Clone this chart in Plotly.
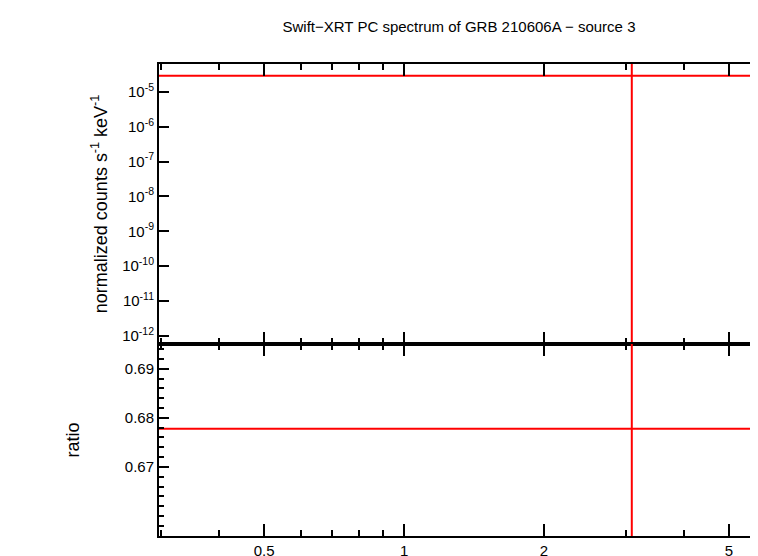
import numpy as np
import plotly.graph_objects as go
from plotly.subplots import make_subplots

# values
energy_range = [0.297, 5.89]
model_level = 2.9e-5
ratio_level = 0.6778
line_energy = 3.09
spec_range = [1e-4 / 1.6, 5.9e-13]
ratio_range = [0.6559, 0.6951]
x_ticks = [0.5, 1, 2, 5]
x_minor = [0.3, 0.4, 0.6, 0.7, 0.8, 0.9, 3, 4]
y_exps = [-5, -6, -7, -8, -9, -10, -11, -12]
ratio_ticks = [0.67, 0.68, 0.69]

fig = make_subplots(rows=2, cols=1, shared_xaxes=True, vertical_spacing=0,
                    row_heights=[0.593, 0.407])

red = dict(color='#ff0000', width=2)
fig.add_trace(go.Scatter(x=energy_range, y=[model_level, model_level], mode='lines', line=red), 1, 1)
fig.add_trace(go.Scatter(x=[line_energy, line_energy], y=spec_range, mode='lines', line=red), 1, 1)
fig.add_trace(go.Scatter(x=energy_range, y=[ratio_level, ratio_level], mode='lines', line=red), 2, 1)
fig.add_trace(go.Scatter(x=[line_energy, line_energy], y=ratio_range, mode='lines', line=red), 2, 1)

ax = dict(showline=True, linecolor='black', linewidth=2, mirror='ticks', ticks='inside',
          tickcolor='black', tickwidth=1.5, showgrid=False, zeroline=False, automargin=False)
xr = [np.log10(v) for v in energy_range]
fig.update_xaxes(type='log', range=xr, ticklen=12, tickvals=x_ticks,
                 ticktext=[str(v) for v in x_ticks],
                 minor=dict(ticks='inside', ticklen=6, tickcolor='black', tickvals=x_minor), **ax)
fig.update_xaxes(showticklabels=False, row=1, col=1)

fig.update_yaxes(type='log', range=[np.log10(spec_range[1]), np.log10(spec_range[0])],
                 tickvals=[10.0 ** e for e in y_exps],
                 ticktext=['10<sup>%d</sup>' % e for e in y_exps], ticklen=10,
                 title=dict(text='normalized counts s<sup>-1</sup> keV<sup>-1</sup>', standoff=10),
                 row=1, col=1, **ax)
fig.update_yaxes(range=ratio_range, tickvals=ratio_ticks, ticktext=[str(v) for v in ratio_ticks],
                 ticklen=10, minor=dict(ticks='inside', ticklen=5, tickcolor='black', dtick=0.002),
                 title=dict(text='ratio', standoff=40), row=2, col=1, **ax)

fig.add_annotation(text='Energy (keV)', xref='paper', yref='paper', x=0.5, y=-0.035,
                   yanchor='top', showarrow=False, font=dict(size=15))

fig.update_layout(
    width=758, height=556, showlegend=False,
    margin=dict(l=151, r=4, t=56, b=28),
    plot_bgcolor='white', paper_bgcolor='white',
    font=dict(family='Liberation Sans', size=15, color='black'),
    title=dict(text='Swift\u2212XRT PC spectrum of GRB 210606A \u2212 source 3',
               x=0.595, y=0.975, xanchor='center', font=dict(size=15)),
)

fig.write_html("out.html")
